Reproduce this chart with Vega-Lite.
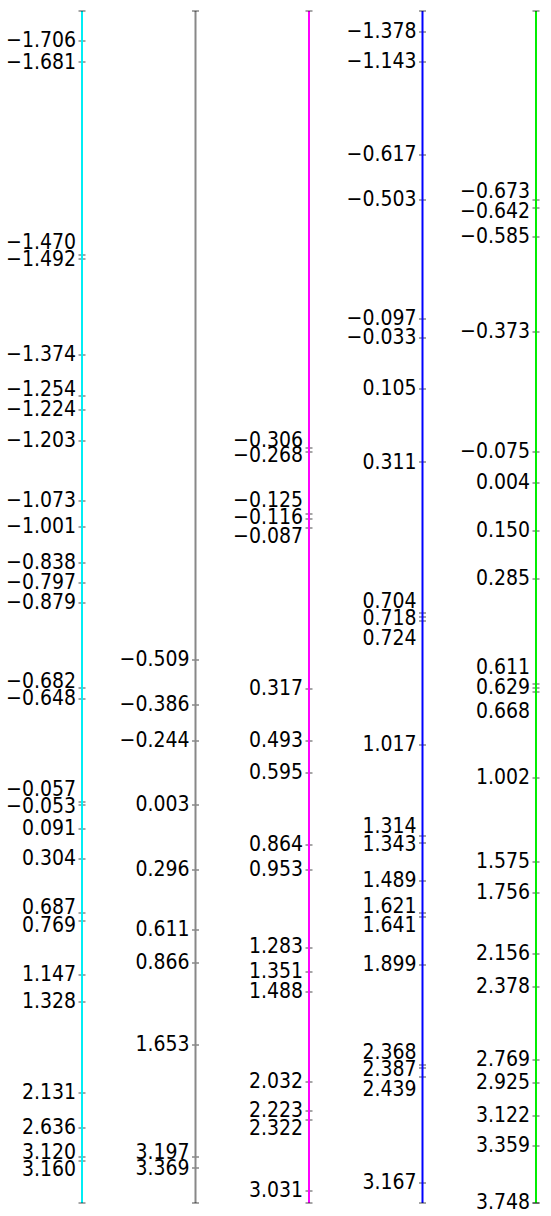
{
  "$schema": "https://vega.github.io/schema/vega-lite/v6.json",
  "autosize": {"type": "fit", "contains": "padding"},
  "width": 551,
  "height": 1216,
  "padding": 0,
  "background": "white",
  "config": {"view": {"stroke": null}},
  "datasets": {
    "axes": [
      {"axis": 0, "top": 11, "bottom": 1203},
      {"axis": 1, "top": 11, "bottom": 1203},
      {"axis": 2, "top": 11, "bottom": 1203},
      {"axis": 3, "top": 11, "bottom": 1203},
      {"axis": 4, "top": 11, "bottom": 1203}
    ],
    "ticks": [
      {"axis": 0, "value": -1.706, "pos": 41, "label_pos": 41},
      {"axis": 0, "value": -1.681, "pos": 62, "label_pos": 63},
      {"axis": 0, "value": -1.470, "pos": 255, "label_pos": 243},
      {"axis": 0, "value": -1.492, "pos": 259, "label_pos": 260},
      {"axis": 0, "value": -1.374, "pos": 355, "label_pos": 355},
      {"axis": 0, "value": -1.254, "pos": 396, "label_pos": 390},
      {"axis": 0, "value": -1.224, "pos": 410, "label_pos": 410},
      {"axis": 0, "value": -1.203, "pos": 441, "label_pos": 441},
      {"axis": 0, "value": -1.073, "pos": 501, "label_pos": 501},
      {"axis": 0, "value": -1.001, "pos": 527, "label_pos": 527},
      {"axis": 0, "value": -0.838, "pos": 563, "label_pos": 563},
      {"axis": 0, "value": -0.797, "pos": 583, "label_pos": 583},
      {"axis": 0, "value": -0.879, "pos": 603, "label_pos": 603},
      {"axis": 0, "value": -0.682, "pos": 688, "label_pos": 682},
      {"axis": 0, "value": -0.648, "pos": 699, "label_pos": 699},
      {"axis": 0, "value": -0.057, "pos": 802, "label_pos": 790},
      {"axis": 0, "value": -0.053, "pos": 805, "label_pos": 807},
      {"axis": 0, "value": 0.091, "pos": 829, "label_pos": 829},
      {"axis": 0, "value": 0.304, "pos": 859, "label_pos": 859},
      {"axis": 0, "value": 0.687, "pos": 913, "label_pos": 908},
      {"axis": 0, "value": 0.769, "pos": 921, "label_pos": 926},
      {"axis": 0, "value": 1.147, "pos": 975, "label_pos": 975},
      {"axis": 0, "value": 1.328, "pos": 1002, "label_pos": 1002},
      {"axis": 0, "value": 2.131, "pos": 1093, "label_pos": 1093},
      {"axis": 0, "value": 2.636, "pos": 1128, "label_pos": 1128},
      {"axis": 0, "value": 3.120, "pos": 1157, "label_pos": 1153},
      {"axis": 0, "value": 3.160, "pos": 1161, "label_pos": 1170},
      {"axis": 1, "value": -0.509, "pos": 660, "label_pos": 660},
      {"axis": 1, "value": -0.386, "pos": 705, "label_pos": 705},
      {"axis": 1, "value": -0.244, "pos": 741, "label_pos": 741},
      {"axis": 1, "value": 0.003, "pos": 805, "label_pos": 805},
      {"axis": 1, "value": 0.296, "pos": 870, "label_pos": 870},
      {"axis": 1, "value": 0.611, "pos": 930, "label_pos": 930},
      {"axis": 1, "value": 0.866, "pos": 963, "label_pos": 963},
      {"axis": 1, "value": 1.653, "pos": 1045, "label_pos": 1045},
      {"axis": 1, "value": 3.197, "pos": 1157, "label_pos": 1153},
      {"axis": 1, "value": 3.369, "pos": 1168, "label_pos": 1169},
      {"axis": 2, "value": -0.306, "pos": 448, "label_pos": 441},
      {"axis": 2, "value": -0.268, "pos": 452, "label_pos": 456},
      {"axis": 2, "value": -0.125, "pos": 514, "label_pos": 501},
      {"axis": 2, "value": -0.116, "pos": 519, "label_pos": 518},
      {"axis": 2, "value": -0.087, "pos": 528, "label_pos": 537},
      {"axis": 2, "value": 0.317, "pos": 689, "label_pos": 689},
      {"axis": 2, "value": 0.493, "pos": 741, "label_pos": 741},
      {"axis": 2, "value": 0.595, "pos": 773, "label_pos": 773},
      {"axis": 2, "value": 0.864, "pos": 845, "label_pos": 845},
      {"axis": 2, "value": 0.953, "pos": 870, "label_pos": 870},
      {"axis": 2, "value": 1.283, "pos": 948, "label_pos": 947},
      {"axis": 2, "value": 1.351, "pos": 972, "label_pos": 972},
      {"axis": 2, "value": 1.488, "pos": 992, "label_pos": 992},
      {"axis": 2, "value": 2.032, "pos": 1082, "label_pos": 1082},
      {"axis": 2, "value": 2.223, "pos": 1111, "label_pos": 1111},
      {"axis": 2, "value": 2.322, "pos": 1120, "label_pos": 1129},
      {"axis": 2, "value": 3.031, "pos": 1191, "label_pos": 1191},
      {"axis": 3, "value": -1.378, "pos": 32, "label_pos": 32},
      {"axis": 3, "value": -1.143, "pos": 62, "label_pos": 62},
      {"axis": 3, "value": -0.617, "pos": 155, "label_pos": 155},
      {"axis": 3, "value": -0.503, "pos": 200, "label_pos": 200},
      {"axis": 3, "value": -0.097, "pos": 319, "label_pos": 319},
      {"axis": 3, "value": -0.033, "pos": 338, "label_pos": 338},
      {"axis": 3, "value": 0.105, "pos": 389, "label_pos": 389},
      {"axis": 3, "value": 0.311, "pos": 462, "label_pos": 463},
      {"axis": 3, "value": 0.704, "pos": 613, "label_pos": 602},
      {"axis": 3, "value": 0.718, "pos": 617, "label_pos": 619},
      {"axis": 3, "value": 0.724, "pos": 621, "label_pos": 639},
      {"axis": 3, "value": 1.017, "pos": 745, "label_pos": 745},
      {"axis": 3, "value": 1.314, "pos": 836, "label_pos": 827},
      {"axis": 3, "value": 1.343, "pos": 843, "label_pos": 845},
      {"axis": 3, "value": 1.489, "pos": 881, "label_pos": 881},
      {"axis": 3, "value": 1.621, "pos": 913, "label_pos": 907},
      {"axis": 3, "value": 1.641, "pos": 917, "label_pos": 926},
      {"axis": 3, "value": 1.899, "pos": 965, "label_pos": 965},
      {"axis": 3, "value": 2.368, "pos": 1065, "label_pos": 1053},
      {"axis": 3, "value": 2.387, "pos": 1068, "label_pos": 1070},
      {"axis": 3, "value": 2.439, "pos": 1077, "label_pos": 1090},
      {"axis": 3, "value": 3.167, "pos": 1183, "label_pos": 1183},
      {"axis": 4, "value": -0.673, "pos": 200, "label_pos": 192},
      {"axis": 4, "value": -0.642, "pos": 208, "label_pos": 212},
      {"axis": 4, "value": -0.585, "pos": 237, "label_pos": 237},
      {"axis": 4, "value": -0.373, "pos": 332, "label_pos": 332},
      {"axis": 4, "value": -0.075, "pos": 452, "label_pos": 452},
      {"axis": 4, "value": 0.004, "pos": 483, "label_pos": 483},
      {"axis": 4, "value": 0.150, "pos": 531, "label_pos": 531},
      {"axis": 4, "value": 0.285, "pos": 579, "label_pos": 579},
      {"axis": 4, "value": 0.611, "pos": 684, "label_pos": 668},
      {"axis": 4, "value": 0.629, "pos": 688, "label_pos": 688},
      {"axis": 4, "value": 0.668, "pos": 692, "label_pos": 712},
      {"axis": 4, "value": 1.002, "pos": 778, "label_pos": 778},
      {"axis": 4, "value": 1.575, "pos": 862, "label_pos": 862},
      {"axis": 4, "value": 1.756, "pos": 893, "label_pos": 893},
      {"axis": 4, "value": 2.156, "pos": 954, "label_pos": 954},
      {"axis": 4, "value": 2.378, "pos": 987, "label_pos": 987},
      {"axis": 4, "value": 2.769, "pos": 1060, "label_pos": 1060},
      {"axis": 4, "value": 2.925, "pos": 1083, "label_pos": 1083},
      {"axis": 4, "value": 3.122, "pos": 1116, "label_pos": 1116},
      {"axis": 4, "value": 3.359, "pos": 1146, "label_pos": 1146},
      {"axis": 4, "value": 3.748, "pos": 1203, "label_pos": 1203}
    ]
  },
  "layer": [
    {
      "data": {"name": "ticks"},
      "mark": {"type": "tick", "orient": "horizontal", "size": 7, "thickness": 1, "color": "#000000"},
      "encoding": {
        "x": {"field": "axis", "type": "quantitative", "scale": {"domain": [-0.7225, 4.1322], "nice": false, "zero": false}, "axis": null},
        "y": {"field": "pos", "type": "quantitative", "scale": {"domain": [0, 1216], "reverse": true, "nice": false, "zero": false}, "axis": null}
      }
    },
    {
      "data": {"name": "axes"},
      "mark": {"type": "rule", "strokeWidth": 2},
      "encoding": {
        "x": {"field": "axis", "type": "quantitative"},
        "y": {"field": "top", "type": "quantitative"},
        "y2": {"field": "bottom"},
        "color": {"field": "axis", "type": "nominal", "scale": {"domain": [0, 1, 2, 3, 4], "range": ["#00eef5", "#888888", "#ff00ff", "#0000ff", "#00ee00"]}, "legend": null}
      }
    },
    {
      "data": {"name": "axes"},
      "mark": {"type": "tick", "orient": "horizontal", "size": 7, "thickness": 1, "color": "#000000"},
      "encoding": {
        "x": {"field": "axis", "type": "quantitative"},
        "y": {"field": "top", "type": "quantitative"}
      }
    },
    {
      "data": {"name": "axes"},
      "mark": {"type": "tick", "orient": "horizontal", "size": 7, "thickness": 1, "color": "#000000"},
      "encoding": {
        "x": {"field": "axis", "type": "quantitative"},
        "y": {"field": "bottom", "type": "quantitative"}
      }
    },
    {
      "data": {"name": "ticks"},
      "mark": {"type": "text", "align": "right", "baseline": "middle", "dx": -6, "font": "DejaVu Sans Condensed", "fontSize": 21, "color": "#000000"},
      "encoding": {
        "x": {"field": "axis", "type": "quantitative"},
        "y": {"field": "label_pos", "type": "quantitative"},
        "text": {"field": "value", "type": "quantitative", "format": ".3f"}
      }
    }
  ]
}
